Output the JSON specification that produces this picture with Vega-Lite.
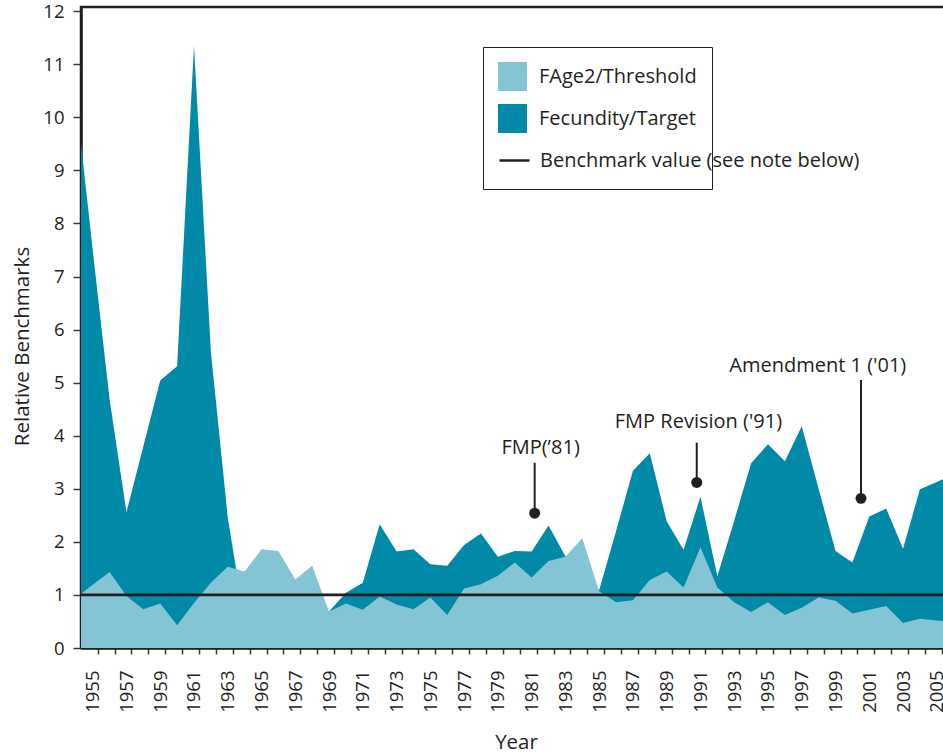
{
  "$schema": "https://vega.github.io/schema/vega-lite/v6.json",
  "width": 865,
  "height": 641,
  "autosize": {"type": "none"},
  "padding": {"left": 81, "top": 7, "right": 0, "bottom": 105},
  "background": "white",
  "config": {
    "view": {"stroke": "#231f20", "strokeWidth": 2.5},
    "font": "Open Sans",
    "axis": {
      "labelFont": "Open Sans",
      "titleFont": "Open Sans",
      "labelColor": "#231f20",
      "titleColor": "#231f20",
      "titleFontWeight": "normal",
      "domainColor": "#231f20",
      "domainWidth": 2.5,
      "tickColor": "#3a3a3a",
      "tickWidth": 1.5,
      "grid": false
    },
    "legend": {
      "labelFontSize": 20,
      "labelFont": "Open Sans",
      "labelColor": "#231f20",
      "labelOffset": 12,
      "labelLimit": 400
    }
  },
  "datasets": {
    "series": [
      {"year": 1954, "threshold": 0.95, "target": 10.4},
      {"year": 1955, "threshold": 1.19, "target": 7.5},
      {"year": 1956, "threshold": 1.43, "target": 4.69},
      {"year": 1957, "threshold": 0.98, "target": 2.56},
      {"year": 1958, "threshold": 0.73, "target": 3.8},
      {"year": 1959, "threshold": 0.84, "target": 5.04},
      {"year": 1960, "threshold": 0.43, "target": 5.31},
      {"year": 1961, "threshold": 0.85, "target": 11.35},
      {"year": 1962, "threshold": 1.23, "target": 5.59},
      {"year": 1963, "threshold": 1.53, "target": 2.46},
      {"year": 1964, "threshold": 1.44, "target": 0.5},
      {"year": 1965, "threshold": 1.86, "target": 1.0},
      {"year": 1966, "threshold": 1.83, "target": 1.0},
      {"year": 1967, "threshold": 1.29, "target": 0.9},
      {"year": 1968, "threshold": 1.55, "target": 0.9},
      {"year": 1969, "threshold": 0.69, "target": 0.69},
      {"year": 1970, "threshold": 0.84, "target": 1.04},
      {"year": 1971, "threshold": 0.72, "target": 1.23},
      {"year": 1972, "threshold": 0.97, "target": 2.33},
      {"year": 1973, "threshold": 0.82, "target": 1.82},
      {"year": 1974, "threshold": 0.73, "target": 1.86},
      {"year": 1975, "threshold": 0.95, "target": 1.58},
      {"year": 1976, "threshold": 0.62, "target": 1.55},
      {"year": 1977, "threshold": 1.12, "target": 1.94},
      {"year": 1978, "threshold": 1.2, "target": 2.16},
      {"year": 1979, "threshold": 1.36, "target": 1.72},
      {"year": 1980, "threshold": 1.61, "target": 1.83},
      {"year": 1981, "threshold": 1.33, "target": 1.82},
      {"year": 1982, "threshold": 1.64, "target": 2.31},
      {"year": 1983, "threshold": 1.72, "target": 1.73},
      {"year": 1984, "threshold": 2.07, "target": 1.4},
      {"year": 1985, "threshold": 1.07, "target": 1.09},
      {"year": 1986, "threshold": 0.86, "target": 2.2},
      {"year": 1987, "threshold": 0.9, "target": 3.34},
      {"year": 1988, "threshold": 1.28, "target": 3.67},
      {"year": 1989, "threshold": 1.44, "target": 2.39},
      {"year": 1990, "threshold": 1.14, "target": 1.85},
      {"year": 1991, "threshold": 1.9, "target": 2.85},
      {"year": 1992, "threshold": 1.14, "target": 1.35},
      {"year": 1993, "threshold": 0.86, "target": 2.4},
      {"year": 1994, "threshold": 0.68, "target": 3.48},
      {"year": 1995, "threshold": 0.86, "target": 3.84},
      {"year": 1996, "threshold": 0.62, "target": 3.52},
      {"year": 1997, "threshold": 0.76, "target": 4.18},
      {"year": 1998, "threshold": 0.95, "target": 3.0},
      {"year": 1999, "threshold": 0.89, "target": 1.83},
      {"year": 2000, "threshold": 0.65, "target": 1.61},
      {"year": 2001, "threshold": 0.72, "target": 2.48},
      {"year": 2002, "threshold": 0.79, "target": 2.63},
      {"year": 2003, "threshold": 0.47, "target": 1.87},
      {"year": 2004, "threshold": 0.55, "target": 2.99},
      {"year": 2005, "threshold": 0.52, "target": 3.13},
      {"year": 2006, "threshold": 0.49, "target": 3.27}
    ],
    "notes": [
      {"label": "FMP(’81)", "labelYear": 1981.53, "labelValue": 3.65, "year": 1981.18, "dot": 2.54, "top": 3.49},
      {"label": "FMP Revision ('91)", "labelYear": 1990.88, "labelValue": 4.14, "year": 1990.78, "dot": 3.12, "top": 3.87},
      {"label": "Amendment 1  ('01)", "labelYear": 1997.95, "labelValue": 5.21, "year": 2000.51, "dot": 2.82, "top": 5.05}
    ]
  },
  "layer": [
    {
      "data": {"name": "series"},
      "mark": {"type": "area", "clip": true, "opacity": 1},
      "encoding": {
        "x": {
          "field": "year",
          "type": "quantitative",
          "scale": {"domain": [1954.307, 2005.545], "nice": false, "zero": false},
          "axis": {
            "title": "Year",
            "values": [1954,1955,1956,1957,1958,1959,1960,1961,1962,1963,1964,1965,1966,1967,1968,1969,1970,1971,1972,1973,1974,1975,1976,1977,1978,1979,1980,1981,1982,1983,1984,1985,1986,1987,1988,1989,1990,1991,1992,1993,1994,1995,1996,1997,1998,1999,2000,2001,2002,2003,2004,2005],
            "tickCount": 200,
            "labelExpr": "datum.value % 2 == 1 ? '' + datum.value : ''",
            "labelAngle": 270,
            "labelFontSize": 18.5,
            "labelPadding": 16,
            "labelOffset": -5,
            "tickOffset": 5,
            "tickSize": 6,
            "labelOverlap": false,
            "labelFlush": false,
            "labelBound": false,
            "titleFontSize": 20.5,
            "titleX": 435,
            "titleY": 100,
            "titleBaseline": "alphabetic",
            "titleAlign": "center"
          }
        },
        "y": {
          "field": "target",
          "type": "quantitative",
          "scale": {"domain": [0, 12.08], "nice": false},
          "axis": {
            "title": "Relative Benchmarks",
            "values": [0,1,2,3,4,5,6,7,8,9,10,11,12],
            "format": "d",
            "labelFontSize": 18.5,
            "labelPadding": 9,
            "tickSize": 8,
            "titleFontSize": 20.5,
            "titleX": -53,
            "titleY": 339,
            "titleBaseline": "alphabetic",
            "titleAlign": "center",
            "titleAngle": 270
          }
        },
        "fill": {
          "datum": "Fecundity/Target",
          "scale": {
            "domain": ["FAge2/Threshold", "Fecundity/Target"],
            "range": ["#83c5d4", "#008aa7"]
          },
          "legend": {
            "title": "\u00a0\u00a0\u00a0\u00a0\u00a0\u00a0\u00a0\u00a0\u00a0\u00a0\u00a0\u00a0\u00a0\u00a0\u00a0\u00a0\u00a0\u00a0\u00a0\u00a0\u00a0\u00a0\u00a0\u00a0\u00a0\u00a0\u00a0\u00a0\u00a0\u00a0\u00a0\u00a0\u00a0\u00a0\u00a0\u00a0\u00a0\u00a0\u00a0\u00a0\u00a0\u00a0\u00a0",
            "titleOrient": "bottom",
            "titleFontSize": 33,
            "titlePadding": 8,
            "titleLimit": 500,
            "titleAnchor": "start",
            "orient": "none",
            "legendX": 402,
            "legendY": 40,
            "padding": 15,
            "strokeColor": "#231f20",
            "symbolType": "square",
            "symbolSize": 841,
            "symbolStrokeWidth": 0,
            "symbolOpacity": 1,
            "rowPadding": 13,
            "labelFontSize": 20,
            "labelOffset": 12,
            "labelLimit": 400,
            "encode": {"legend": {"strokeWidth": {"value": 2}}}
          }
        }
      }
    },
    {
      "data": {"name": "series"},
      "mark": {"type": "area", "clip": true, "opacity": 1},
      "encoding": {
        "x": {"field": "year", "type": "quantitative"},
        "y": {"field": "threshold", "type": "quantitative"},
        "fill": {"datum": "FAge2/Threshold"}
      }
    },
    {
      "data": {"values": [{}]},
      "mark": {"type": "rule", "strokeWidth": 2.7},
      "encoding": {
        "y": {"datum": 1},
        "stroke": {
          "datum": "Benchmark value (see note below)",
          "scale": {"domain": ["Benchmark value (see note below)"], "range": ["#231f20"]},
          "legend": {
            "title": null,
            "orient": "none",
            "legendX": 417,
            "legendY": 137,
            "padding": 0,
            "symbolType": "stroke",
            "symbolSize": 900,
            "symbolStrokeWidth": 2.5,
            "symbolStrokeColor": "#231f20",
            "labelFontSize": 20,
            "labelOffset": 9,
            "labelLimit": 400
          }
        }
      }
    },
    {
      "data": {"name": "notes"},
      "mark": {"type": "rule", "color": "#231f20", "strokeWidth": 2},
      "encoding": {
        "x": {"field": "year", "type": "quantitative"},
        "y": {"field": "dot", "type": "quantitative"},
        "y2": {"field": "top"}
      }
    },
    {
      "data": {"name": "notes"},
      "mark": {"type": "point", "filled": true, "shape": "circle", "size": 120, "color": "#231f20", "opacity": 1},
      "encoding": {
        "x": {"field": "year", "type": "quantitative"},
        "y": {"field": "dot", "type": "quantitative"}
      }
    },
    {
      "data": {"name": "notes"},
      "mark": {"type": "text", "font": "Open Sans", "fontSize": 20, "color": "#231f20", "align": "center", "baseline": "alphabetic"},
      "encoding": {
        "x": {"field": "labelYear", "type": "quantitative"},
        "y": {"field": "labelValue", "type": "quantitative"},
        "text": {"field": "label"}
      }
    }
  ]
}
